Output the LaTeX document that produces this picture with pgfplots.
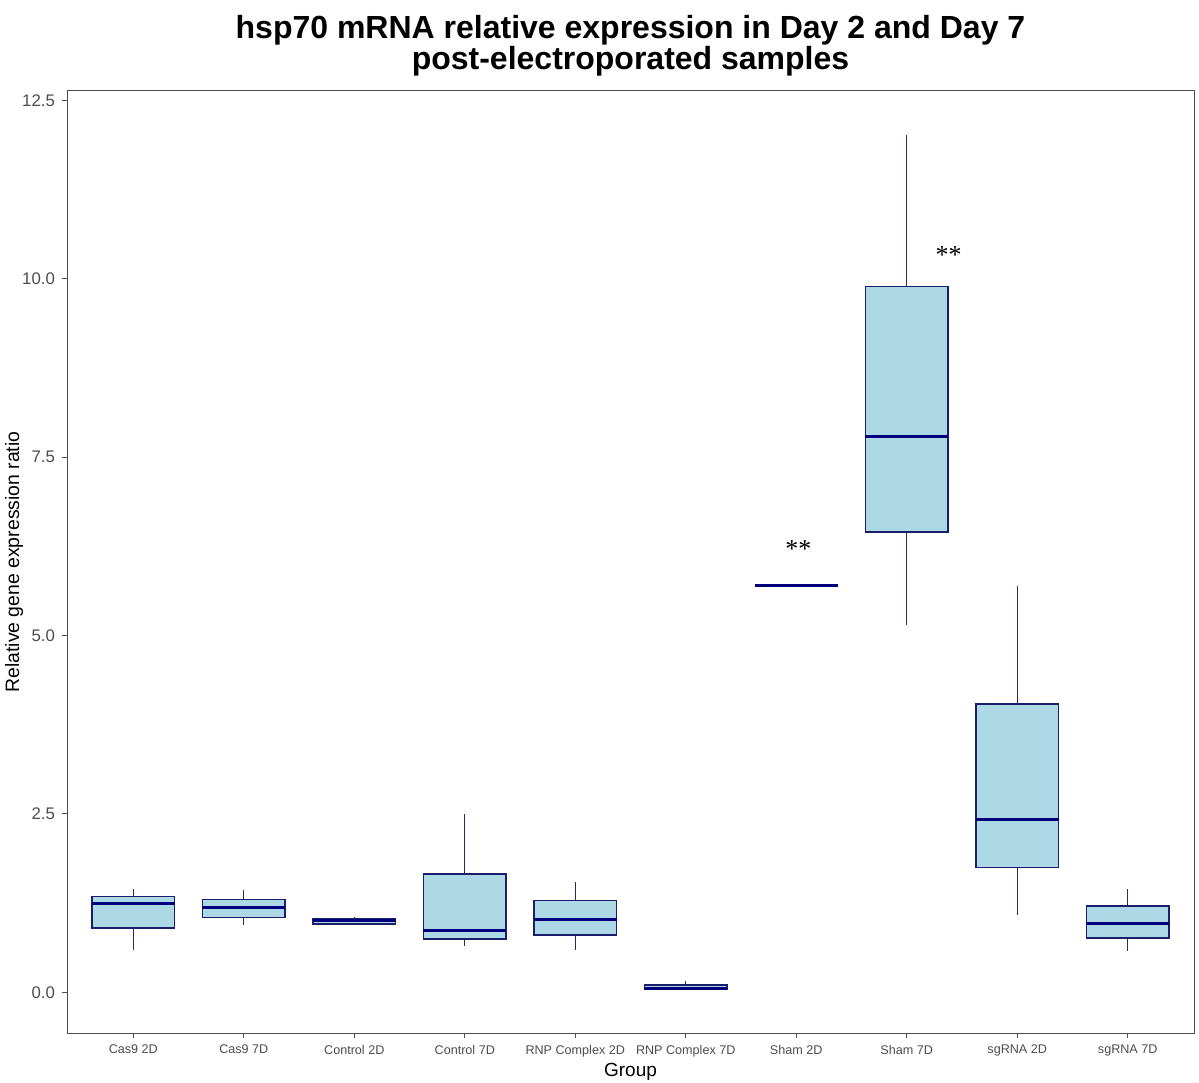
\documentclass[border=0pt]{standalone}
\usepackage{fontspec}
\setmainfont{Liberation Sans}
\newfontfamily\serifast{Liberation Serif}
\usepackage{pgfplots}
\pgfplotsset{compat=1.18}
\usepgfplotslibrary{statistics}
\definecolor{boxfill}{HTML}{ADD8E6}
\definecolor{boxedge}{HTML}{1B1F6B}
\definecolor{mednavy}{HTML}{00007F}
\definecolor{whisk}{HTML}{2B2F55}
\definecolor{axgray}{HTML}{4D4D4D}
\begin{document}
\begin{tikzpicture}
\useasboundingbox (0pt,0pt) rectangle (599.5pt,541pt);
\begin{axis}[
  at={(33.5pt,24.5pt)}, anchor=south west,
  scale only axis, width=563.5pt, height=471pt,
  xmin=0.4, xmax=10.6, ymin=-0.57, ymax=12.63,
  xtick={1,2,3,4,5,6,7,8,9,10},
  xticklabels={Cas9 2D,Cas9 7D,Control 2D,Control 7D,RNP Complex 2D,RNP Complex 7D,Sham 2D,Sham 7D,sgRNA 2D,sgRNA 7D},
  ytick={0,2.5,5,7.5,10,12.5},
  yticklabels={0.0,2.5,5.0,7.5,10.0,12.5},
  tick align=outside, tick pos=left,
  major tick length=2.5pt,
  every tick/.style={axgray, line width=0.5pt},
  axis line style={axgray, line width=0.5pt},
  ticklabel style={axgray},
  xticklabel style={font=\fontsize{6.3}{7}\selectfont},
  yticklabel style={font=\fontsize{8.4}{9}\selectfont},
  xlabel={Group}, ylabel={Relative gene expression ratio},
  label style={font=\fontsize{9.5}{10}\selectfont},
  xlabel style={at={(axis description cs:0.5,-0.041)}, anchor=center},
  ylabel style={at={(axis description cs:-0.047,0.5)}, anchor=center, font=\fontsize{9.7}{10}\selectfont},
  title={hsp70 mRNA relative expression in Day 2 and Day 7\\post-electroporated samples},
  title style={at={(axis description cs:0.5,1.003)}, anchor=south, inner sep=0pt, align=center, font=\bfseries\fontsize{16}{15.5}\selectfont},
  boxplot/draw direction=y,
  boxplot/box extend=0.75, boxplot/whisker extend=0,
  boxplot/every box/.style={draw=boxedge, fill=boxfill, line width=0.75pt},
  boxplot/every whisker/.style={draw=whisk, line width=0.6pt},
  boxplot/every median/.style={draw=mednavy, line width=1.5pt},
]
% Cas9 2D
\addplot[boxplot prepared={draw position=1, lower whisker=0.60, lower quartile=0.90, median=1.24, upper quartile=1.34, upper whisker=1.45}, fill=boxfill, draw=boxedge] coordinates {};
% Cas9 7D
\addplot[boxplot prepared={draw position=2, lower whisker=0.94, lower quartile=1.05, median=1.19, upper quartile=1.30, upper whisker=1.43}, fill=boxfill, draw=boxedge] coordinates {};
% Control 2D
\addplot[boxplot prepared={draw position=3, lower whisker=0.94, lower quartile=0.96, median=1.00, upper quartile=1.03, upper whisker=1.06}, fill=boxfill, draw=boxedge] coordinates {};
% Control 7D
\addplot[boxplot prepared={draw position=4, lower whisker=0.65, lower quartile=0.75, median=0.87, upper quartile=1.66, upper whisker=2.50}, fill=boxfill, draw=boxedge] coordinates {};
% RNP Complex 2D
\addplot[boxplot prepared={draw position=5, lower whisker=0.60, lower quartile=0.80, median=1.02, upper quartile=1.29, upper whisker=1.55}, fill=boxfill, draw=boxedge] coordinates {};
% RNP Complex 7D
\addplot[boxplot prepared={draw position=6, lower whisker=0.03, lower quartile=0.04, median=0.06, upper quartile=0.10, upper whisker=0.16}, fill=boxfill, draw=boxedge] coordinates {};
% Sham 2D
\addplot[boxplot prepared={draw position=7, lower whisker=5.70, lower quartile=5.70, median=5.70, upper quartile=5.70, upper whisker=5.70}, fill=boxfill, draw=boxedge] coordinates {};
% Sham 7D
\addplot[boxplot prepared={draw position=8, lower whisker=5.15, lower quartile=6.45, median=7.79, upper quartile=9.89, upper whisker=12.01}, fill=boxfill, draw=boxedge] coordinates {};
% sgRNA 2D
\addplot[boxplot prepared={draw position=9, lower whisker=1.09, lower quartile=1.75, median=2.42, upper quartile=4.04, upper whisker=5.70}, fill=boxfill, draw=boxedge] coordinates {};
% sgRNA 7D
\addplot[boxplot prepared={draw position=10, lower whisker=0.58, lower quartile=0.76, median=0.97, upper quartile=1.21, upper whisker=1.45}, fill=boxfill, draw=boxedge] coordinates {};
\node[font=\serifast\fontsize{13}{14}\selectfont, yshift=-1.5pt] at (axis cs:7.02,6.25) {**};
\node[font=\serifast\fontsize{13}{14}\selectfont, yshift=-1.5pt] at (axis cs:8.38,10.38) {**};
\end{axis}
\end{tikzpicture}
\end{document}
